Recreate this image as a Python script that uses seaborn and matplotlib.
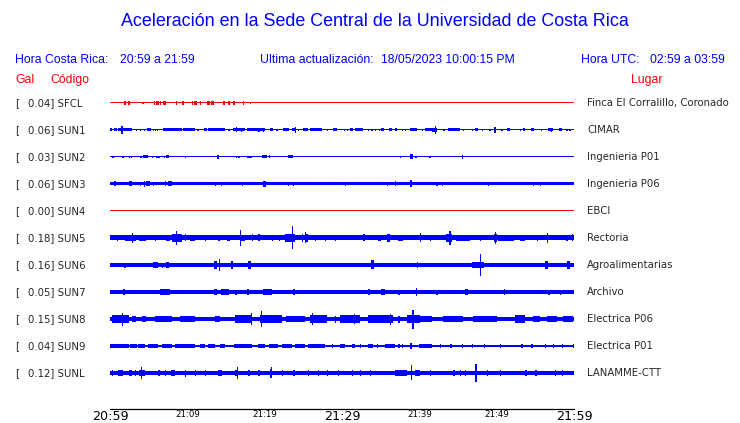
import matplotlib
matplotlib.use("Agg")
import matplotlib.pyplot as plt
import matplotlib.transforms as mtransforms
import seaborn as sns

# --- data ---------------------------------------------------------------
titulo = "Aceleración en la Sede Central de la Universidad de Costa Rica"
hora_cr = "20:59 a 21:59"
hora_utc = "02:59 a 03:59"
actualizacion = "18/05/2023 10:00:15 PM"

codigos = ["SFCL", "SUN1", "SUN2", "SUN3", "SUN4", "SUN5", "SUN6", "SUN7", "SUN8", "SUN9", "SUNL"]
gal = [0.04, 0.06, 0.03, 0.06, 0.00, 0.18, 0.16, 0.05, 0.15, 0.04, 0.12]
lugares = ["Finca El Corralillo, Coronado", "CIMAR", "Ingenieria P01", "Ingenieria P06", "EBCI",
           "Rectoria", "Agroalimentarias", "Archivo", "Electrica P06", "Electrica P01", "LANAMME-CTT"]

# minutes after 20:59
tick_min = [0, 5, 10, 15, 20, 25, 30, 35, 40, 45, 50, 55, 60]
tick_lab = ["20:59", "", "21:09", "", "21:19", "", "21:29", "", "21:39", "", "21:49", "", "21:59"]

# background noise level of each trace (half width, px)
ruido = [0.5, 0.5, 0.5, 1.5, 0.5, 2.5, 1.6, 1.6, 2.4, 0.6, 2.0]

# envelope events: (start min, end min, half amplitude px)
sfcl = [(1.85, 1.85, 1.6), (2.37, 2.37, 1.6), (4.18, 4.18, 1.2), (5.69, 5.69, 1.6), (6.0, 6.3, 1.6),
        (6.47, 6.47, 1.6), (6.9, 7.2, 1.6), (8.53, 8.53, 1.6), (9.35, 9.35, 1.6), (10.6, 10.6, 1.6),
        (10.8, 11.2, 1.6), (11.6, 11.6, 2.4), (12.6, 12.9, 1.6), (13.1, 13.4, 1.6), (14.65, 14.65, 1.6),
        (15.3, 15.3, 1.6), (15.9, 16.2, 1.6), (17.2, 17.2, 1.6), (18.1, 18.1, 1.2)]
sun1 = [(0.0, 0.3, 1.5), (0.56, 0.86, 1.5), (1.07, 2.8, 1.5), (1.46, 1.46, 3.7), (3.3, 3.3, 1.3),
        (3.9, 3.9, 1.3), (4.4, 4.4, 1.3), (4.8, 5.25, 1.5), (5.55, 5.55, 1.3), (5.8, 5.8, 1.3),
        (6.1, 6.1, 1.3), (6.9, 9.3, 1.5), (9.5, 11.0, 1.5), (11.3, 11.3, 1.3), (12.1, 12.5, 1.5),
        (12.7, 14.9, 1.5), (15.3, 15.3, 1.3), (15.9, 17.45, 1.5), (16.3, 16.3, 2.5), (16.9, 16.9, 2.2),
        (17.7, 20.0, 1.5), (19.2, 19.2, 2.3), (19.8, 19.8, 2.3), (20.7, 21.1, 1.5), (21.5, 21.5, 1.3),
        (22.4, 23.1, 1.5), (23.5, 24.0, 1.5), (23.95, 23.95, 3.0), (24.3, 24.3, 1.3), (25.0, 25.6, 1.5),
        (25.9, 27.4, 1.5), (28.0, 28.0, 1.3), (28.9, 29.3, 1.5), (30.2, 30.2, 1.3), (30.6, 30.6, 1.3),
        (31.0, 31.4, 1.5), (31.7, 32.7, 1.5), (33.3, 33.3, 1.3), (33.8, 33.8, 1.3), (34.3, 34.3, 1.3),
        (34.8, 34.8, 1.3), (35.1, 35.4, 1.5), (36.1, 36.5, 1.5), (36.9, 37.1, 1.5), (37.7, 37.7, 1.3),
        (38.1, 38.1, 1.3), (38.8, 39.7, 1.5), (40.3, 40.3, 1.3), (40.7, 41.6, 1.5), (41.7, 42.3, 2.0),
        (42.0, 42.0, 3.7), (43.1, 43.1, 1.3), (43.75, 45.2, 1.5), (45.6, 45.6, 1.3), (46.8, 46.8, 1.3),
        (47.2, 47.6, 1.5), (48.1, 48.1, 1.3), (49.05, 49.05, 1.3), (49.7, 49.7, 3.0), (50.6, 50.6, 1.3),
        (51.3, 51.7, 1.5), (53.0, 53.0, 1.3), (53.4, 53.7, 1.5), (54.4, 54.8, 1.5), (55.7, 55.7, 1.3),
        (56.7, 57.3, 1.5), (57.0, 57.0, 2.3), (58.0, 58.4, 1.5), (59.0, 59.0, 1.3), (59.4, 59.4, 1.3)]
sun2 = [(0.3, 0.3, 1.3), (1.6, 1.6, 1.0), (2.45, 2.45, 1.3), (2.7, 2.7, 1.3), (3.9, 4.1, 1.3),
        (4.3, 4.95, 1.5), (5.4, 5.4, 1.3), (6.0, 6.0, 1.3), (6.25, 6.25, 1.3), (7.0, 7.0, 1.3),
        (7.2, 7.6, 1.5), (9.7, 9.7, 1.0), (13.9, 13.9, 2.0), (16.3, 16.3, 1.3), (16.6, 16.6, 1.3),
        (17.7, 18.3, 1.3), (19.6, 20.25, 1.5), (20.5, 20.5, 1.5), (23.05, 23.6, 1.5), (37.5, 37.5, 1.0),
        (38.8, 39.2, 2.5), (39.5, 39.5, 1.3), (41.3, 41.3, 1.3), (45.5, 45.5, 1.7)]
sun3 = [(0.56, 0.56, 2.5), (2.45, 2.8, 2.5), (3.9, 3.9, 2.0), (4.4, 4.4, 3.0), (4.7, 5.2, 2.5),
        (5.5, 5.5, 2.0), (7.1, 7.3, 2.5), (7.5, 8.0, 2.5), (13.6, 13.6, 2.0), (14.35, 14.35, 2.0),
        (17.1, 17.1, 2.0), (19.8, 20.2, 3.0), (23.05, 23.05, 2.3), (23.6, 23.6, 2.3), (30.4, 30.4, 2.0),
        (35.8, 35.8, 2.0), (36.8, 36.8, 2.5), (38.8, 39.0, 3.5), (42.2, 42.2, 1.8), (42.9, 42.9, 1.8),
        (48.9, 48.9, 2.0), (54.7, 54.7, 2.0), (55.6, 55.6, 2.0), (59.9, 59.9, 1.5)]
sun4 = []
sun5 = [(0.86, 1.07, 3.4), (1.9, 3.4, 3.4), (2.8, 2.8, 5.3), (3.7, 4.7, 3.1), (5.8, 5.8, 3.0),
        (7.3, 7.75, 3.1), (8.0, 9.3, 3.8), (8.5, 8.5, 7.3), (9.7, 9.7, 3.5), (10.3, 11.0, 3.4),
        (12.3, 12.3, 3.0), (14.0, 14.0, 3.0), (15.1, 15.5, 3.0), (16.8, 16.8, 7.8), (17.0, 17.45, 3.4),
        (18.3, 18.3, 3.5), (19.2, 19.2, 3.5), (20.9, 20.9, 3.0), (21.8, 21.8, 3.0), (22.6, 23.9, 3.8),
        (23.5, 23.5, 11.5), (24.8, 24.8, 4.0), (25.2, 25.2, 5.5), (25.4, 25.4, 4.0), (26.5, 26.5, 2.8),
        (27.8, 27.8, 3.0), (29.1, 29.1, 3.0), (32.76, 32.76, 3.5), (34.7, 35.1, 3.0), (35.8, 36.2, 3.8),
        (37.3, 37.9, 3.4), (40.1, 40.1, 4.5), (41.4, 41.4, 3.0), (43.5, 44.2, 3.8), (43.9, 43.9, 6.7),
        (44.8, 46.5, 2.9), (47.8, 47.8, 3.0), (49.6, 50.0, 3.8), (49.8, 49.8, 6.0), (50.2, 52.2, 3.4),
        (53.0, 53.7, 3.4), (55.2, 55.2, 3.0), (56.5, 56.5, 5.0), (59.0, 59.0, 3.0), (59.7, 59.7, 3.5)]
sun6 = [(1.85, 1.85, 2.5), (5.6, 6.25, 2.6), (6.7, 6.9, 2.5), (7.3, 7.6, 2.6), (13.5, 13.8, 3.8),
        (14.1, 14.1, 6.0), (15.6, 15.9, 3.8), (17.9, 18.2, 3.8), (21.85, 21.85, 2.0), (25.2, 25.2, 2.0),
        (29.1, 29.1, 2.0), (33.8, 34.1, 4.5), (39.7, 39.7, 3.0), (46.8, 48.3, 2.8), (47.85, 47.85, 11.0),
        (56.3, 56.7, 3.8), (59.05, 59.5, 3.8)]
sun7 = [(1.7, 2.0, 3.0), (4.6, 4.6, 2.2), (5.8, 5.8, 2.2), (6.5, 7.75, 2.6), (12.3, 12.3, 2.0),
        (13.4, 13.8, 2.6), (14.4, 15.4, 2.8), (16.2, 16.2, 2.5), (17.7, 18.0, 2.6), (19.8, 20.9, 2.6),
        (23.7, 23.7, 3.3), (24.8, 25.4, 2.3), (26.5, 26.5, 2.2), (27.4, 27.4, 2.2), (28.2, 29.1, 2.1),
        (29.7, 30.4, 2.1), (33.4, 33.4, 2.8), (35.1, 35.6, 2.6), (37.3, 37.3, 2.5), (39.6, 39.6, 4.0),
        (42.2, 42.2, 2.5), (43.75, 43.75, 2.2), (45.9, 46.3, 2.6), (48.6, 48.6, 2.2), (50.9, 51.1, 2.6),
        (52.4, 52.4, 2.2), (53.9, 55.0, 2.3), (56.7, 56.7, 2.5), (58.2, 58.2, 2.5)]
sun8 = [(0.2, 2.4, 3.6), (1.5, 1.5, 6.5), (2.8, 3.4, 3.0), (4.1, 4.7, 3.4), (5.8, 8.0, 3.3),
        (9.05, 11.0, 3.3), (13.6, 14.2, 3.0), (16.2, 18.3, 3.6), (18.2, 18.2, 5.7), (19.4, 20.0, 4.2),
        (19.5, 19.5, 8.0), (20.0, 22.2, 3.6), (22.8, 25.2, 3.3), (25.9, 28.0, 3.6), (26.15, 26.15, 6.0),
        (29.1, 29.1, 3.5), (30.0, 30.0, 3.5), (29.74, 32.3, 3.6), (31.5, 31.5, 5.0), (33.4, 36.6, 3.6),
        (36.2, 36.2, 5.5), (37.3, 37.3, 3.5), (38.4, 40.1, 4.0), (39.1, 39.1, 9.5), (40.1, 41.6, 3.0),
        (43.1, 45.7, 2.7), (47.0, 50.0, 2.7), (52.4, 53.7, 3.6), (54.7, 55.6, 3.0), (56.5, 57.8, 2.9),
        (58.6, 59.9, 2.7)]
sun9 = [(0.0, 2.4, 1.6), (2.6, 3.45, 1.6), (3.65, 4.5, 1.6), (4.95, 6.25, 1.6), (6.7, 8.0, 1.6),
        (8.4, 11.0, 1.6), (11.6, 12.3, 1.6), (12.7, 13.6, 1.6), (14.2, 14.9, 1.6), (16.0, 18.3, 1.6),
        (19.2, 20.0, 1.6), (20.5, 21.75, 1.6), (22.2, 23.5, 1.6), (23.9, 25.2, 1.6), (25.6, 27.8, 1.6),
        (28.65, 28.65, 1.6), (29.74, 30.4, 1.6), (31.25, 31.7, 2.0), (32.3, 32.3, 1.6), (33.4, 34.05, 2.0),
        (34.5, 34.5, 1.6), (35.6, 36.85, 2.0), (37.3, 37.3, 1.6), (37.7, 37.7, 1.6), (38.8, 39.0, 3.3),
        (39.9, 41.7, 2.0), (42.7, 42.7, 1.6), (44.0, 44.0, 1.6), (45.5, 45.5, 1.6), (46.8, 46.8, 1.6),
        (48.3, 48.3, 1.6), (50.4, 50.4, 1.6), (53.2, 53.2, 2.0), (54.5, 54.5, 1.6), (56.25, 56.25, 1.6),
        (57.3, 57.3, 1.6), (58.4, 58.4, 1.6), (59.9, 59.9, 1.6)]
sunl = [(0.2, 0.2, 3.0), (1.07, 1.7, 2.8), (2.4, 2.8, 3.0), (3.2, 3.2, 3.0), (3.7, 4.5, 3.0),
        (3.96, 3.96, 6.0), (6.25, 6.25, 3.0), (7.1, 7.1, 3.0), (7.95, 8.4, 2.8), (9.7, 9.7, 3.5),
        (11.0, 11.0, 3.0), (12.3, 12.3, 2.7), (14.0, 14.45, 3.0), (16.2, 16.6, 3.0), (16.4, 16.4, 6.0),
        (17.9, 17.9, 3.0), (19.2, 19.2, 3.0), (20.7, 20.9, 4.5), (20.8, 20.8, 5.5), (22.2, 22.2, 3.0),
        (23.7, 23.7, 3.0), (25.6, 25.6, 3.0), (26.9, 26.9, 3.0), (28.0, 28.0, 3.0), (29.5, 29.5, 3.0),
        (31.25, 31.25, 3.0), (32.3, 32.3, 3.0), (33.6, 33.6, 3.0), (36.85, 38.4, 3.0), (38.9, 38.9, 7.5),
        (39.4, 40.1, 3.0), (41.4, 41.4, 3.0), (44.4, 44.4, 3.0), (45.25, 45.25, 3.0), (45.9, 45.9, 3.0),
        (47.2, 47.4, 8.7), (48.7, 48.7, 3.0), (50.4, 50.4, 3.0), (53.7, 53.7, 3.0), (55.0, 55.0, 3.0),
        (57.5, 57.5, 3.0), (58.4, 58.4, 3.0)]
eventos = [sfcl, sun1, sun2, sun3, sun4, sun5, sun6, sun7, sun8, sun9, sunl]

# --- figure ---------------------------------------------------------------
sns.set_style("white")
plt.rcParams["font.family"] = ["DejaVu Sans"]

W, H = 740, 423
fig = plt.figure(figsize=(W / 100, H / 100), dpi=100)
# trace area: x from 110 to 574 px, y from 90 to 409 px (bottom axis line)
ax = fig.add_axes([110 / W, 1 - 409 / H, 464 / W, 319 / H])
SEP = 27.0  # px between traces
ax.set_xlim(0, 60)
ax.set_ylim(306 / SEP, -13 / SEP)

AZUL = (0, 0, 1)
ROJO = (1, 0, 0)
colores = [ROJO if c in ("SFCL", "SUN4") else AZUL for c in codigos]

for i, (ev, b, col) in enumerate(zip(eventos, ruido, colores)):
    ax.bar(0, 2 * b / SEP, width=60, bottom=i - b / SEP, align="edge",
           color=col, linewidth=0, antialiased=False)
    for t0, t1, a in ev:
        ax.bar(t0, 2 * a / SEP, width=max(t1 - t0, 0.16), bottom=i - a / SEP, align="edge",
               color=col, linewidth=0, antialiased=False)

sns.despine(ax=ax, left=True, top=True, right=True)
ax.spines["bottom"].set_color("black")
ax.spines["bottom"].set_linewidth(0.9)
ax.set_yticks([])
ax.set_xticks(tick_min)
ax.set_xticklabels(tick_lab)
ax.tick_params(axis="x", direction="in", length=6.8, width=0.9, pad=0.5, colors="black")
for lab in ax.get_xticklabels():
    lab.set_fontsize(9.2 if lab.get_text() in ("20:59", "21:29", "21:59") else 6.2)
    lab.set_va("top")

# station labels
trans = mtransforms.blended_transform_factory(fig.transFigure, ax.transData)
for i, (c, g, lug) in enumerate(zip(codigos, gal, lugares)):
    ax.text(15 / W, i, "[", transform=trans, ha="left", va="center", fontsize=7.3, clip_on=False)
    ax.text(28 / W, i, f"{g:.2f}] {c}", transform=trans, ha="left", va="center",
            fontsize=7.3, clip_on=False)
    ax.text(587 / W, i, lug, transform=trans, ha="left", va="center", fontsize=7.3, clip_on=False)

# header
hdr = dict(family="Liberation Sans", fontsize=8.8, va="center")
fig.text(375 / W, 1 - 22 / H, titulo, ha="center", va="center", fontsize=12.9,
         color=AZUL, family="Liberation Sans")
fig.text(15 / W, 1 - 60 / H, "Hora Costa Rica:", color=AZUL, **hdr)
fig.text(120 / W, 1 - 60 / H, hora_cr, color=AZUL, **hdr)
fig.text(260 / W, 1 - 60 / H, "Ultima actualización:", color=AZUL, **hdr)
fig.text(381 / W, 1 - 60 / H, actualizacion, color=AZUL, **hdr)
fig.text(581 / W, 1 - 60 / H, "Hora UTC:", color=AZUL, **hdr)
fig.text(650 / W, 1 - 60 / H, hora_utc, color=AZUL, **hdr)
fig.text(15 / W, 1 - 80 / H, "Gal", color=ROJO, **hdr)
fig.text(50 / W, 1 - 80 / H, "Código", color=ROJO, **hdr)
fig.text(631 / W, 1 - 80 / H, "Lugar", color=ROJO, **hdr)

fig.savefig("out.png", dpi=100)
